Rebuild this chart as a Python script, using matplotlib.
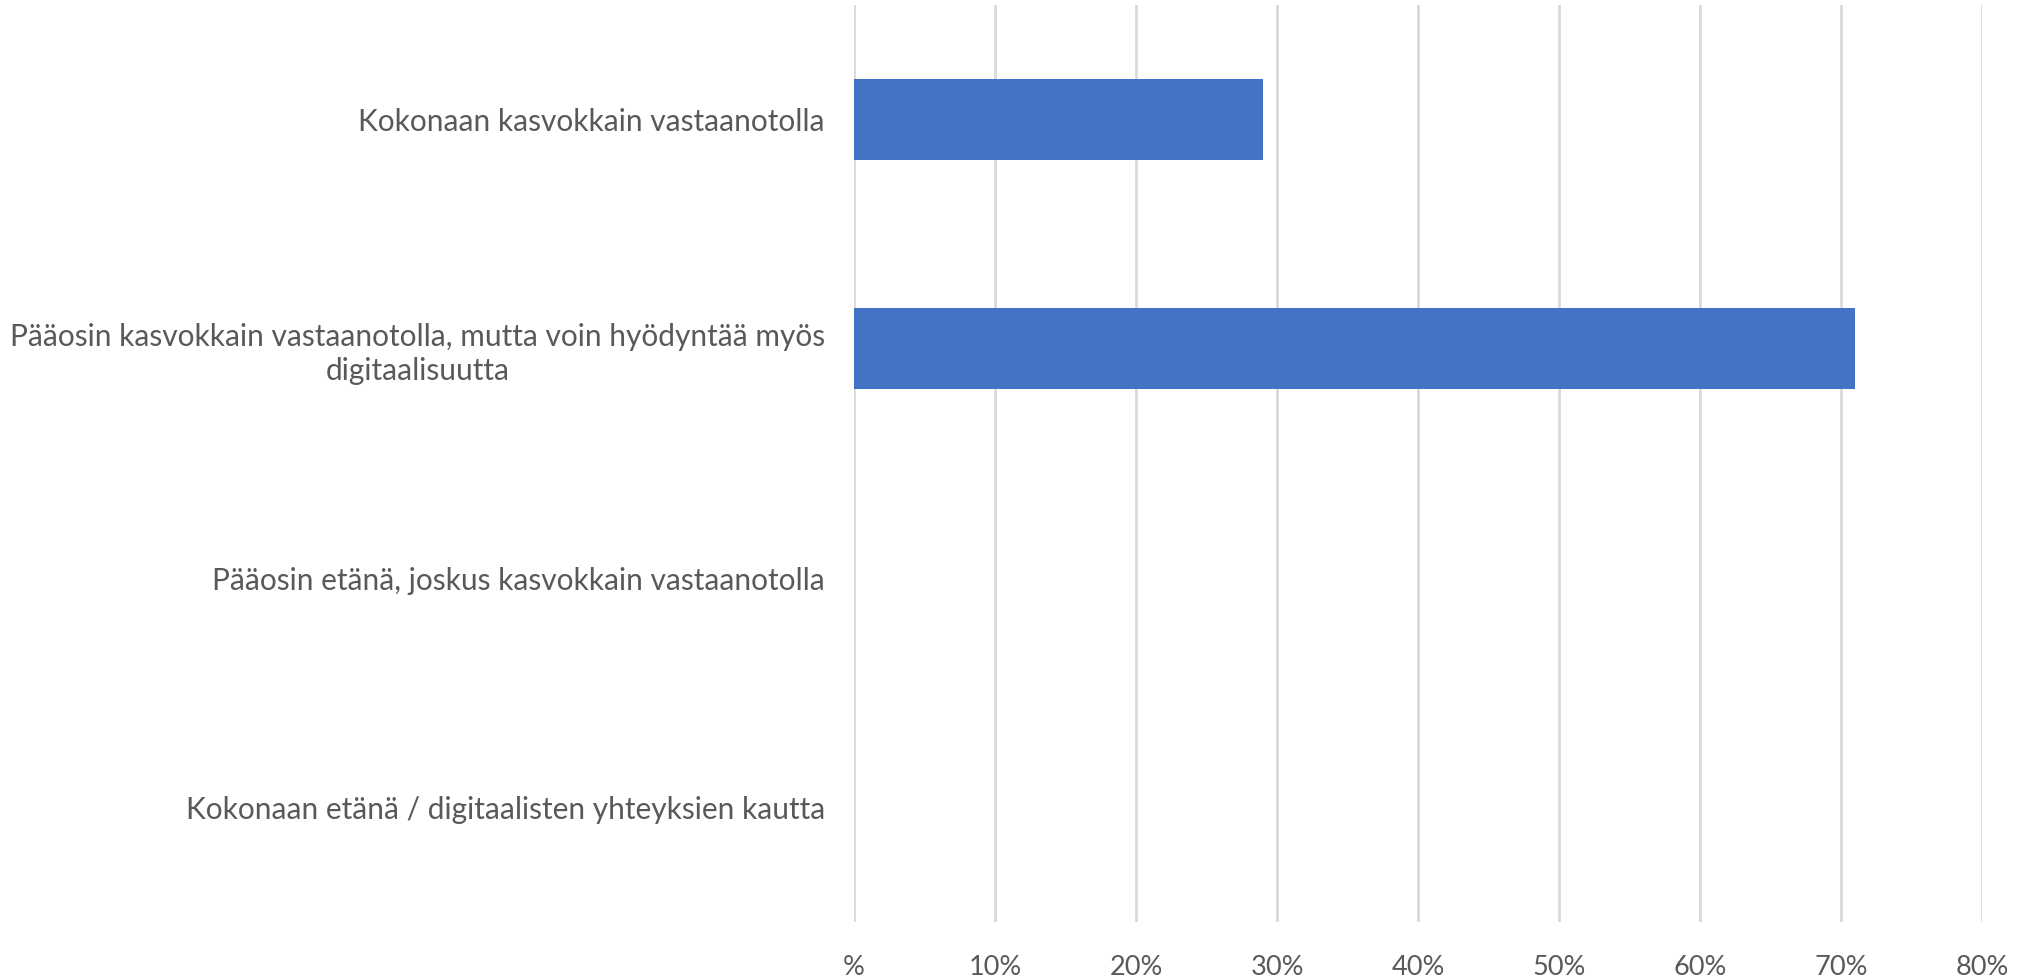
import matplotlib
matplotlib.use("Agg")
import matplotlib.pyplot as plt

categories = [
    "Kokonaan kasvokkain vastaanotolla",
    "Pääosin kasvokkain vastaanotolla, mutta voin hyödyntää myös\ndigitaalisuutta",
    "Pääosin etänä, joskus kasvokkain vastaanotolla",
    "Kokonaan etänä / digitaalisten yhteyksien kautta",
]
values = [29, 71, 0, 0]
x_ticks = [0, 10, 20, 30, 40, 50, 60, 70, 80]
x_tick_labels = ["%", "10%", "20%", "30%", "40%", "50%", "60%", "70%", "80%"]

plt.rcParams["font.family"] = ["Lato", "DejaVu Sans"]
text_color = "#595959"

fig = plt.figure(figsize=(20.22, 9.8), dpi=100)
ax = fig.add_axes([0.4224, 0.0592, 0.5578, 0.9357])

y = range(len(categories))
ax.barh(y, values, height=0.354, color="#4472C4", zorder=3)

ax.set_xlim(0, 80)
ax.set_ylim(len(categories) - 0.5, -0.5)
ax.set_xticks(x_ticks)
ax.set_xticklabels(x_tick_labels, fontsize=19.5, color=text_color)
ax.set_yticks(list(y))
ax.set_yticklabels(categories, fontsize=21.5, color=text_color,
                   multialignment="center", linespacing=1.25)
ax.tick_params(axis="y", length=0, pad=21)
ax.tick_params(axis="x", length=0, pad=24)

ax.grid(axis="x", color="#d9d9d9", linewidth=2, zorder=0)
for side in ["top", "right", "bottom", "left"]:
    ax.spines[side].set_visible(False)

fig.savefig("out.png", dpi=100, facecolor="white")
